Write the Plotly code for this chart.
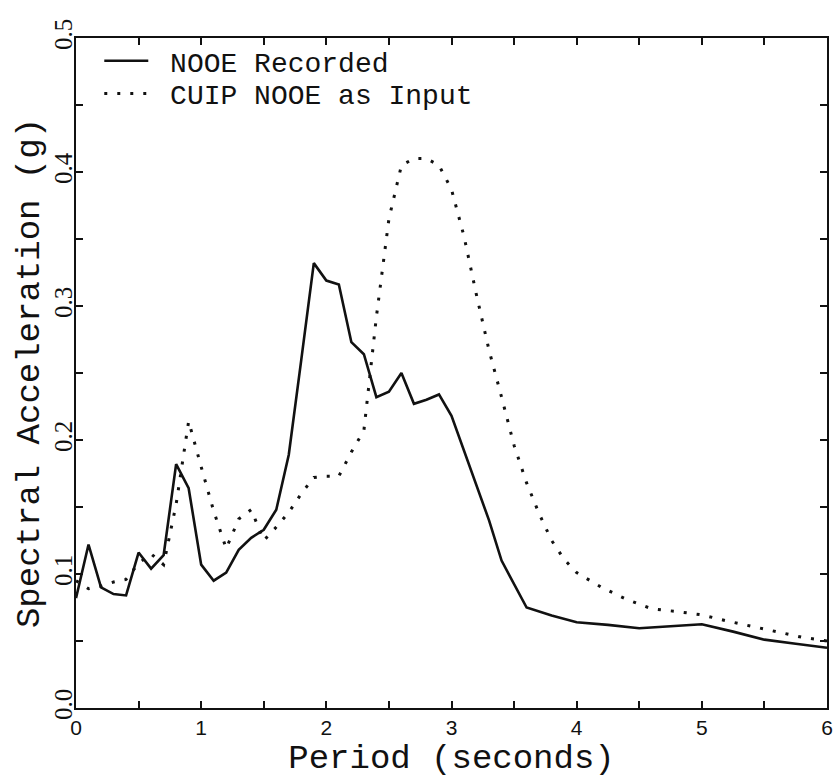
import plotly.graph_objects as go

# Response spectra, period (s) vs spectral acceleration (g)
period_recorded = [0.0, 0.1, 0.2, 0.3, 0.4, 0.5, 0.6, 0.7, 0.8, 0.9, 1.0, 1.1, 1.2, 1.3,
                   1.4, 1.5, 1.6, 1.7, 1.8, 1.9, 2.0, 2.1, 2.2, 2.3, 2.4, 2.5, 2.6, 2.7,
                   2.8, 2.9, 3.0, 3.1, 3.2, 3.3, 3.4, 3.6, 3.8, 4.0, 4.25, 4.5, 4.75, 5.0,
                   5.25, 5.5, 5.75, 6.0]
sa_recorded = [0.082, 0.122, 0.090, 0.085, 0.084, 0.116, 0.104, 0.114, 0.182, 0.164, 0.107,
               0.095, 0.101, 0.118, 0.127, 0.133, 0.148, 0.189, 0.260, 0.332, 0.319, 0.316,
               0.273, 0.264, 0.232, 0.236, 0.250, 0.227, 0.230, 0.234, 0.218, 0.192, 0.166,
               0.140, 0.110, 0.075, 0.069, 0.064, 0.062, 0.0595, 0.061, 0.0625, 0.057,
               0.051, 0.048, 0.045]

period_input = [0.0, 0.1, 0.2, 0.3, 0.4, 0.5, 0.6, 0.7, 0.8, 0.9, 1.0, 1.1, 1.2, 1.3, 1.4,
                1.5, 1.6, 1.7, 1.8, 1.9, 2.0, 2.1, 2.2, 2.3, 2.4, 2.5, 2.6, 2.7, 2.8, 2.9,
                3.0, 3.1, 3.2, 3.3, 3.4, 3.5, 3.6, 3.7, 3.8, 3.9, 4.0, 4.2, 4.4, 4.6, 4.8,
                5.0, 5.2, 5.4, 5.6, 5.8, 6.0]
sa_input = [0.095, 0.089, 0.091, 0.094, 0.096, 0.108, 0.115, 0.107, 0.152, 0.214, 0.180,
            0.147, 0.119, 0.141, 0.148, 0.125, 0.135, 0.146, 0.160, 0.172, 0.173, 0.173,
            0.191, 0.207, 0.292, 0.365, 0.405, 0.410, 0.410, 0.405, 0.387, 0.352, 0.308,
            0.267, 0.232, 0.196, 0.168, 0.145, 0.125, 0.111, 0.101, 0.090, 0.081, 0.074,
            0.072, 0.0695, 0.065, 0.061, 0.0567, 0.0528, 0.050]

x_ticks = [0, 0.5, 1, 1.5, 2, 2.5, 3, 3.5, 4, 4.5, 5, 5.5, 6]
x_labels = ["0", "", "1", "", "2", "", "3", "", "4", "", "5", "", "6"]
y_ticks = [0, 0.05, 0.1, 0.15, 0.2, 0.25, 0.3, 0.35, 0.4, 0.45, 0.5]
y_labels = ["0.0", "", "0.1", "", "0.2", "", "0.3", "", "0.4", "", "0.5"]

MONO = "Liberation Mono, Courier New, monospace"
INK = "#111111"
NBSP = "\u00a0"

fig = go.Figure()
fig.add_trace(go.Scatter(
    x=period_recorded, y=sa_recorded, mode="lines", name=NBSP + "NOOE Recorded",
    line=dict(color=INK, width=2.6), legend="legend",
))
fig.add_trace(go.Scatter(
    x=period_input, y=sa_input, mode="lines", name=NBSP + "CUIP NOOE as Input",
    line=dict(color=INK, width=3, dash="3px,10px"), legend="legend2",
))

axis_common = dict(
    showline=True, linecolor=INK, linewidth=2, mirror="ticks",
    ticks="inside", ticklen=7, tickwidth=2, tickcolor=INK,
    showgrid=False, zeroline=False, tickmode="array",
)

legend_common = dict(
    xanchor="left", yanchor="top",
    font=dict(family=MONO, size=28, color=INK),
    bgcolor="rgba(0,0,0,0)", borderwidth=0, itemwidth=44,
)

fig.update_layout(
    width=835, height=780,
    margin=dict(l=76, r=2, t=38, b=72),
    paper_bgcolor="white", plot_bgcolor="white",
    font=dict(family=MONO, color=INK),
    showlegend=True,
    legend=dict(x=0.031, y=1.003, **legend_common),
    legend2=dict(x=0.031, y=0.954, **legend_common),
    xaxis=dict(
        range=[0, 6], tickvals=x_ticks, ticktext=x_labels,
        ticklabeloverflow="allow",
        tickfont=dict(family="Liberation Sans, Arial, sans-serif", size=21, color=INK),
        title=dict(text="Period (seconds)", font=dict(family=MONO, size=34, color=INK),
                   standoff=6),
        **axis_common,
    ),
    yaxis=dict(
        range=[0, 0.5], tickvals=y_ticks, ticktext=y_labels, tickangle=-90,
        ticklabelstandoff=-8,
        tickfont=dict(family="Liberation Serif, Times New Roman, serif", size=25, color=INK),
        title=dict(text="Spectral Acceleration (g)", font=dict(family=MONO, size=34, color=INK),
                   standoff=0),
        **axis_common,
    ),
)

fig.write_html("out.html")
